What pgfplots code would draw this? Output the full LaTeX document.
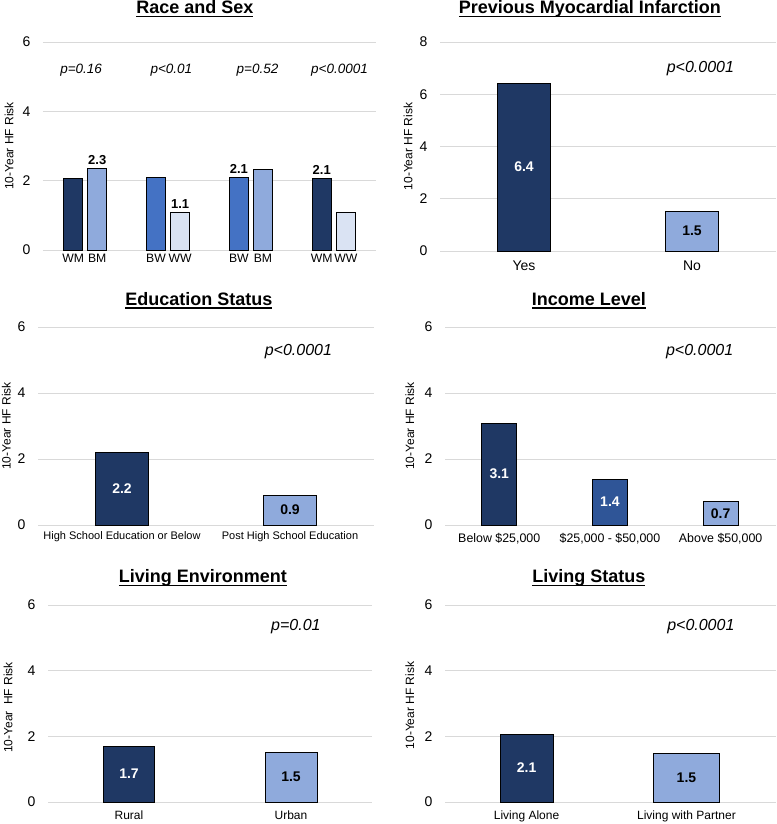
\documentclass[border=0pt]{standalone}
\usepackage{fontspec}
\setmainfont{Liberation Sans}
\usepackage{pgfplots}
\pgfplotsset{compat=1.18}
\definecolor{navy}{HTML}{1F3864}
\definecolor{lblue}{HTML}{8FAADC}
\definecolor{mblue}{HTML}{4472C4}
\definecolor{pale}{HTML}{DAE3F3}
\definecolor{incmid}{HTML}{2F5597}
\definecolor{gridgray}{HTML}{D9D9D9}
\newcommand{\fs}[1]{\fontsize{#1}{#1}\selectfont}
\newcommand{\ttl}[1]{\setbox0=\hbox{#1}\rlap{\vrule height -1.8pt depth 3.5pt width \wd0}\box0}
\pgfplotsset{
  panel/.style={
    scale only axis, anchor=south west, ymin=0, clip=false,
    axis line style={draw=none}, major tick length=0pt,
    ymajorgrids, major grid style={draw=gridgray, line width=0.9pt},
    /pgf/number format/assume math mode=true,
    yticklabel style={font=\fs{14}, xshift=-9pt},
    ylabel={10-Year HF Risk},
    ylabel style={font=\fs{12}, anchor=center},
    every axis title/.style={font=\bfseries\fs{18}, anchor=base},
  },
  barbase/.style={ybar, bar shift=0pt, draw=black, line width=0.9pt},
  valin/.style={
    nodes near coords={\pgfmathprintnumber[fixed,fixed zerofill,precision=1]{\pgfplotspointmeta}},
    visualization depends on=y \as \rawy,
    nodes near coords style={anchor=center, shift={(axis direction cs:0,-\rawy/2)}, font=\bfseries\fs{14}, text=#1}},
  valtop/.style={
    nodes near coords={\pgfmathprintnumber[fixed,fixed zerofill,precision=1]{\pgfplotspointmeta}},
    nodes near coords style={anchor=south, font=\bfseries\fs{13}, text=black}},
}
\begin{document}
\begin{tikzpicture}
\useasboundingbox (0pt,0pt) rectangle (776pt,-824pt);
\clip (0pt,0pt) rectangle (776pt,-824pt);

% Panel 1: Race and Sex
\begin{axis}[panel, at={(43pt,-250pt)}, width=333pt, height=208pt,
  ymax=6, ytick={0,2,4,6}, yticklabel style={xshift=0pt},
  xmin=-0.51, xmax=3.51,
  xtick={-0.145,0.145,0.855,1.145,1.855,2.145,2.855,3.145},
  xticklabels={WM,BM,BW,WW,BW,BM,WM,WW},
  xticklabel style={font=\fs{12.2}, yshift=-1pt},
  ylabel style={at={(axis description cs:-0.102,0.5)}},
  title={\ttl{Race and Sex}},
  title style={at={(axis description cs:0.456,1.135)}}]
\addplot[barbase, bar width=19pt, fill=navy] coordinates {(-0.145,2.07)};
\addplot[barbase, bar width=19pt, fill=lblue, valtop] coordinates {(0.145,2.34)};
\addplot[barbase, bar width=19pt, fill=mblue] coordinates {(0.855,2.09)};
\addplot[barbase, bar width=19pt, fill=pale, valtop] coordinates {(1.145,1.08)};
\addplot[barbase, bar width=19pt, fill=mblue, valtop] coordinates {(1.855,2.09)};
\addplot[barbase, bar width=19pt, fill=lblue] coordinates {(2.145,2.33)};
\addplot[barbase, bar width=19pt, fill=navy, valtop] coordinates {(2.855,2.07)};
\addplot[barbase, bar width=19pt, fill=pale] coordinates {(3.145,1.08)};
\node[font=\itshape\fs{13.5}] at (axis cs:-0.05,5.2) {p=0.16};
\node[font=\itshape\fs{13.5}] at (axis cs:1.04,5.2) {p<0.01};
\node[font=\itshape\fs{13.5}] at (axis cs:2.08,5.2) {p=0.52};
\node[font=\itshape\fs{13.5}] at (axis cs:3.07,5.2) {p<0.0001};
\end{axis}

% Panel 2: Previous MI
\begin{axis}[panel, at={(440pt,-251pt)}, width=336pt, height=209pt,
  ymax=8, ytick={0,2,4,6,8},
  xmin=-0.5, xmax=1.5, xtick={0,1}, xticklabels={Yes,No},
  xticklabel style={font=\fs{14}, yshift=-6pt},
  ylabel style={at={(axis description cs:-0.095,0.5)}},
  title={\ttl{Previous Myocardial Infarction}},
  title style={at={(axis description cs:0.446,1.134)}}]
\addplot[barbase, bar width=53pt, fill=navy, valin=white] coordinates {(0,6.43)};
\addplot[barbase, bar width=53pt, fill=lblue, valin=black] coordinates {(1,1.52)};
\node[font=\itshape\fs{16}] at (axis cs:1.05,6.97) {p<0.0001};
\end{axis}

% Panel 3: Education Status
\begin{axis}[panel, at={(38pt,-525pt)}, width=336pt, height=198pt,
  ymax=6, ytick={0,2,4,6},
  xmin=-0.5, xmax=1.5, xtick={0,1},
  xticklabels={High School Education or Below,Post High School Education},
  xticklabel style={font=\fs{11}, yshift=-3pt},
  ylabel style={at={(axis description cs:-0.094,0.5)}},
  title={\ttl{Education Status}},
  title style={at={(axis description cs:0.479,1.111)}}]
\addplot[barbase, bar width=53pt, fill=navy, valin=white] coordinates {(0,2.2)};
\addplot[barbase, bar width=53pt, fill=lblue, valin=black] coordinates {(1,0.9)};
\node[font=\itshape\fs{16}] at (axis cs:1.05,5.27) {p<0.0001};
\end{axis}

% Panel 4: Income Level
\begin{axis}[panel, at={(445pt,-525pt)}, width=331pt, height=198pt,
  ymax=6, ytick={0,2,4,6},
  xmin=-0.49, xmax=2.5, xtick={0,1,2},
  xticklabels={Below \$25{,}000,\$25{,}000 - \$50{,}000,Above \$50{,}000},
  xticklabel style={font=\fs{12.4}, yshift=-5pt},
  ylabel style={at={(axis description cs:-0.106,0.5)}},
  title={\ttl{Income Level}},
  title style={at={(axis description cs:0.435,1.111)}}]
\addplot[barbase, bar width=35pt, fill=navy, valin=white] coordinates {(0,3.09)};
\addplot[barbase, bar width=35pt, fill=incmid, valin=white] coordinates {(1,1.39)};
\addplot[barbase, bar width=35pt, fill=lblue, valin=black] coordinates {(2,0.7)};
\node[font=\itshape\fs{16}] at (axis cs:1.81,5.27) {p<0.0001};
\end{axis}

% Panel 5: Living Environment
\begin{axis}[panel, at={(48pt,-802pt)}, width=324pt, height=197pt,
  ymax=6, ytick={0,2,4,6},
  xmin=-0.5, xmax=1.5, xtick={0,1}, xticklabels={Rural,Urban},
  xticklabel style={font=\fs{12}, yshift=-5pt},
  ylabel={10-Year\ \ HF Risk},
  ylabel style={at={(axis description cs:-0.123,0.48)}},
  title={\ttl{Living Environment}},
  title style={at={(axis description cs:0.478,1.112)}}]
\addplot[barbase, bar width=51pt, fill=navy, valin=white] coordinates {(0,1.7)};
\addplot[barbase, bar width=52pt, fill=lblue, valin=black] coordinates {(1,1.52)};
\node[font=\itshape\fs{16}] at (axis cs:1.03,5.33) {p=0.01};
\end{axis}

% Panel 6: Living Status
\begin{axis}[panel, at={(445pt,-802pt)}, width=331pt, height=197pt,
  ymax=6, ytick={0,2,4,6},
  xmin=-0.51, xmax=1.56, xtick={0,1}, xticklabels={Living Alone,Living with Partner},
  xticklabel style={font=\fs{12}, yshift=-5pt},
  ylabel style={at={(axis description cs:-0.106,0.49)}},
  title={\ttl{Living Status}},
  title style={at={(axis description cs:0.435,1.112)}}]
\addplot[barbase, bar width=53pt, fill=navy, valin=white] coordinates {(0,2.07)};
\addplot[barbase, bar width=66pt, fill=lblue, valin=black] coordinates {(1,1.49)};
\node[font=\itshape\fs{16}] at (axis cs:1.09,5.33) {p<0.0001};
\end{axis}
\end{tikzpicture}
\end{document}
